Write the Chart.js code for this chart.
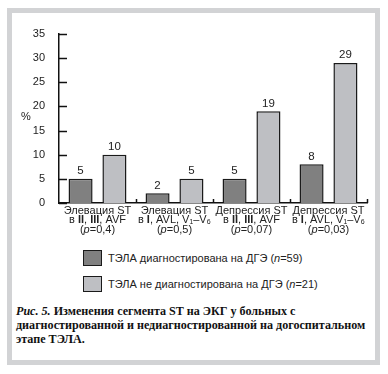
<!DOCTYPE html>
<html>
<head>
<meta charset="utf-8">
<script src="https://cdn.jsdelivr.net/npm/chart.js@4"></script>
<style>
    body { margin: 0; background: #fff; width: 388px; height: 374px; position: relative; overflow: hidden; }
    .frame { position: absolute; left: 7px; top: 8px; width: 373px; height: 357px; border: 5px solid #d2d3d5; box-sizing: border-box; }
    .chart-box { position: absolute; left: 0; top: 0; width: 388px; height: 240px; }
    .ylabel { position: absolute; left: 21px; top: 110px; font: 11px "Liberation Sans", Arial, sans-serif; color: #222; }
    .legend { position: absolute; left: 83px; font: 11px "Liberation Sans", Arial, sans-serif; color: #222; }
    .legend span.box { position: absolute; left: 0; top: 0; width: 17px; height: 14px; border: 1.5px solid #1a1a1a; }
    .legend span.txt { position: absolute; left: 25px; top: 2px; white-space: nowrap; }
    .caption { position: absolute; left: 16px; top: 304px; width: 360px; font: bold 12.1px "Liberation Serif", "Times New Roman", serif; line-height: 14px; color: #111; }
    .caption div { white-space: nowrap; }
</style>
</head>
<body>
<div class="frame"></div>
<div class="chart-box"><canvas id="chart"></canvas></div>
<div class="ylabel">%</div>
<div class="legend" style="top:250px"><span class="box" style="background:#808080"></span><span class="txt">ТЭЛА диагностирована на ДГЭ (<i>n</i>=59)</span></div>
<div class="legend" style="top:276px"><span class="box" style="background:#bebfc3"></span><span class="txt">ТЭЛА не диагностирована на ДГЭ (<i>n</i>=21)</span></div>
<div class="caption"><div><i>Рис. 5.</i> Изменения сегмента ST на ЭКГ у больных с</div><div>диагностированной и недиагностированной на догоспитальном</div><div>этапе ТЭЛА.</div></div>
<script>
// данные
const categories = ['Элевация ST в II, III, AVF', 'Элевация ST в I, AVL, V1-V6', 'Депрессия ST в II, III, AVF', 'Депрессия ST в I, AVL, V1-V6'];
const diagnosed = [5, 2, 5, 8];
const notDiagnosed = [10, 5, 19, 29];
const seriesNames = ['ТЭЛА диагностирована на ДГЭ (n=59)', 'ТЭЛА не диагностирована на ДГЭ (n=21)'];
const yMin = 0, yMax = 35, yStep = 5;

// подписи категорий: строки из фрагментов [текст, стиль]
const categoryLines = [
    [[['Элевация ST', '']], [['в ', ''], ['II', 'bold'], [', ', ''], ['III', 'bold'], [', AVF', '']], [['(', ''], ['p', 'italic'], ['=0,4)', '']]],
    [[['Элевация ST', '']], [['в ', ''], ['I', 'bold'], [', AVL, V₁–V₆', '']], [['(', ''], ['p', 'italic'], ['=0,5)', '']]],
    [[['Депрессия ST', '']], [['в ', ''], ['II', 'bold'], [', ', ''], ['III', 'bold'], [', AVF', '']], [['(', ''], ['p', 'italic'], ['=0,07)', '']]],
    [[['Депрессия ST', '']], [['в ', ''], ['I', 'bold'], [', AVL, V₁–V₆', '']], [['(', ''], ['p', 'italic'], ['=0,03)', '']]]
];

const FONT = '"Liberation Sans", Arial, sans-serif';

const axisDecor = {
    id: 'axisDecor',
    afterDraw(chart) {
        const ctx = chart.ctx;
        const area = chart.chartArea;
        const x = chart.scales.x;
        const y = chart.scales.y;
        ctx.save();
        ctx.strokeStyle = '#111';
        ctx.lineWidth = 1.5;
        // внутренние засечки оси Y
        y.ticks.forEach(t => {
            const py = Math.round(y.getPixelForValue(t.value)) + 0.5;
            ctx.beginPath();
            ctx.moveTo(area.left, py);
            ctx.lineTo(area.left + 8, py);
            ctx.stroke();
        });
        // засечки между группами
        for (let i = 1; i <= categories.length; i++) {
            const px = i < categories.length
                ? (x.getPixelForValue(i - 1) + x.getPixelForValue(i)) / 2
                : area.right;
            ctx.beginPath();
            ctx.moveTo(Math.round(px) + 0.5, area.bottom);
            ctx.lineTo(Math.round(px) + 0.5, area.bottom - 4);
            ctx.stroke();
        }
        // значения над столбиками
        ctx.fillStyle = '#222';
        ctx.font = '11.5px ' + FONT;
        ctx.textAlign = 'center';
        ctx.textBaseline = 'bottom';
        chart.data.datasets.forEach((ds, di) => {
            chart.getDatasetMeta(di).data.forEach((bar, i) => {
                ctx.fillText(String(ds.data[i]), bar.x, bar.y - 2);
            });
        });
        // подписи категорий
        ctx.textAlign = 'left';
        ctx.textBaseline = 'middle';
        categoryLines.forEach((lines, i) => {
            const cx = x.getPixelForValue(i);
            lines.forEach((segs, li) => {
                let w = 0;
                segs.forEach(s => { ctx.font = (s[1] ? s[1] + ' ' : '') + '11px ' + FONT; w += ctx.measureText(s[0]).width; });
                let px = cx - w / 2;
                const py = area.bottom + 8 + li * 9.3;
                segs.forEach(s => {
                    ctx.font = (s[1] ? s[1] + ' ' : '') + '11px ' + FONT;
                    ctx.fillText(s[0], px, py);
                    px += ctx.measureText(s[0]).width;
                });
            });
        });
        ctx.restore();
    }
};

new Chart(document.getElementById('chart'), {
    type: 'bar',
    data: {
        labels: categories,
        datasets: [{
            label: seriesNames[0],
            data: diagnosed,
            backgroundColor: '#808080',
            borderColor: '#1a1a1a',
            borderWidth: 1.5,
            categoryPercentage: 0.88,
            barPercentage: 0.71
        }, {
            label: seriesNames[1],
            data: notDiagnosed,
            backgroundColor: '#bebfc3',
            borderColor: '#1a1a1a',
            borderWidth: 1.5,
            categoryPercentage: 0.88,
            barPercentage: 0.71
        }]
    },
    options: {
        responsive: true,
        maintainAspectRatio: false,
        animation: false,
        layout: { padding: { left: 0, right: 21, top: 34, bottom: 0 } },
        scales: {
            x: {
                grid: { display: false },
                border: { display: true, color: '#111', width: 1.5 },
                ticks: { display: false },
                afterFit: s => { s.height = 37; }
            },
            y: {
                min: yMin,
                max: yMax,
                grid: { display: false },
                border: { display: true, color: '#111', width: 1.5 },
                ticks: { stepSize: yStep, padding: 6, color: '#222', font: { family: FONT, size: 11 } },
                afterFit: s => { s.width = 59; }
            }
        },
        plugins: {
            legend: { display: false },
            tooltip: { enabled: false }
        }
    },
    plugins: [axisDecor]
});
</script>
</body>
</html>
